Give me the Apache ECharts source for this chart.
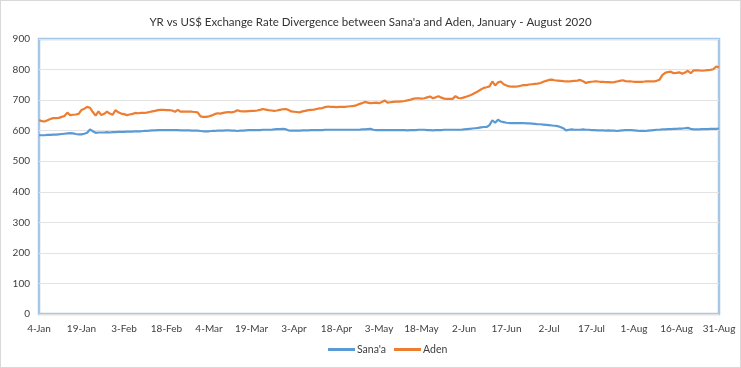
<!DOCTYPE html>
<html>
<head>
<meta charset="utf-8">
<script src="https://cdn.jsdelivr.net/npm/echarts@6/dist/echarts.min.js"></script>
<style>
html,body{margin:0;padding:0;background:#fff;}
#wrap{position:absolute;left:0;top:0;width:739px;height:366px;border:1px solid #D9D9D9;}
#chart{width:739px;height:366px;}
</style>
</head>
<body>
<div id="wrap"><div id="chart"></div></div>
<script>
const titleText = "YR vs US$ Exchange Rate Divergence between Sana'a and Aden, January - August 2020";
const seriesNames = ["Sana'a", "Aden"];
const monthNames = ["Jan","Feb","Mar","Apr","May","Jun","Jul","Aug"];
const startDay = 4;           // 4-Jan-2020
const dayCount = 241;         // through 31-Aug-2020
const yTicks = [0,100,200,300,400,500,600,700,800,900];

const sanaa = [
  585,585,585,586,586,587,587,588,589,590,591,592,591,589,588,
  588,590,593,604,598,593,594,594,594,595,594,595,595,596,596,
  596,597,597,597,598,598,598,599,599,600,601,601,602,602,602,
  602,602,602,602,602,601,601,601,601,600,600,600,599,598,598,
  598,599,599,600,600,600,601,601,600,600,599,600,600,601,602,
  602,602,602,602,603,603,603,603,604,605,605,606,605,601,600,
  600,600,600,601,601,601,602,602,602,602,602,603,603,603,603,
  603,603,603,603,603,603,603,603,603,604,604,605,606,603,602,
  602,602,602,602,602,602,602,602,602,602,601,602,602,602,603,
  603,603,602,602,601,602,602,602,603,603,603,603,603,603,603,
  604,605,606,607,608,609,611,612,612,618,634,626,636,630,628,
  626,625,625,625,625,625,625,624,624,623,622,621,621,620,619,
  618,617,616,615,612,608,601,603,604,603,603,603,604,603,603,
  602,602,601,601,601,600,601,600,600,599,600,601,602,602,602,
  601,600,599,599,599,600,601,602,603,603,604,604,605,605,606,
  606,607,607,608,609,606,604,604,604,605,605,605,606,606,606,607
];
const aden = [
  635,631,630,634,638,641,641,642,645,648,659,651,652,653,655,
  668,672,678,675,661,649,663,651,655,662,656,652,667,660,656,
  654,651,653,655,658,657,658,658,659,661,663,665,667,668,668,
  667,667,666,662,668,662,662,662,662,662,661,660,647,645,645,
  647,650,654,657,656,658,660,661,660,662,667,664,663,663,664,
  665,665,666,668,671,669,667,666,665,666,668,670,671,668,663,
  662,661,660,663,665,667,668,669,671,673,674,677,679,678,678,
  677,678,678,678,679,680,681,683,687,690,694,692,690,691,692,
  690,694,699,692,693,694,695,695,696,697,699,701,704,706,706,
  705,706,709,712,706,709,713,708,705,704,704,704,713,707,706,
  709,712,715,719,724,729,735,740,742,745,761,748,758,761,752,
  748,745,744,744,745,747,749,749,751,752,753,754,756,760,763,
  766,767,765,764,763,762,761,761,762,763,764,766,762,756,759,
  760,761,761,760,760,759,759,758,759,761,763,765,762,761,761,
  760,760,760,760,761,761,761,761,763,767,782,789,792,793,788,
  789,791,786,790,796,788,797,797,797,796,797,798,799,801,810,807
];

// daily category labels
const monthLengths = [31,29,31,30,31,30,31,31];
const categories = [];
{
  let m = 0, d = startDay;
  for (let i = 0; i < dayCount; i++) {
    categories.push(d + '-' + monthNames[m]);
    d++;
    if (d > monthLengths[m]) { d = 1; m++; }
  }
}

const FONT = 'Lato, "Open Sans", sans-serif';
const chart = echarts.init(document.getElementById('chart'));
chart.setOption({
  animation: false,
  title: {
    text: titleText,
    left: 'center',
    top: 10,
    textStyle: { fontFamily: FONT, fontSize: 11.5, fontWeight: 'normal', color: '#333333' }
  },
  legend: {
    data: seriesNames,
    bottom: 7,
    left: 322,
    itemWidth: 27,
    itemHeight: 3,
    itemGap: 8,
    icon: 'rect',
    textStyle: { fontFamily: FONT, fontSize: 10.5, color: '#404040', padding: [0,0,0,-3] }
  },
  grid: {
    left: 38, right: 21, top: 38, bottom: 53,
    show: true, borderColor: '#A7C7E7', borderWidth: 2.5
  },
  xAxis: {
    type: 'category',
    data: categories,
    boundaryGap: false,
    axisLine: { show: false },
    axisTick: { show: false },
    axisLabel: { interval: 14, margin: 10, fontFamily: FONT, fontSize: 10, color: '#404040', showMaxLabel: true }
  },
  yAxis: {
    type: 'value',
    min: yTicks[0], max: yTicks[yTicks.length-1], interval: 100,
    axisLine: { show: false },
    axisTick: { show: false },
    splitLine: { lineStyle: { color: '#E3E3E3', width: 1 } },
    axisLabel: { margin: 9, fontFamily: FONT, fontSize: 10, color: '#404040' }
  },
  series: [
    { name: seriesNames[0], type: 'line', data: sanaa, showSymbol: false, symbol: 'none',
      lineStyle: { color: '#5B9BD5', width: 2.2 }, itemStyle: { color: '#5B9BD5' } },
    { name: seriesNames[1], type: 'line', data: aden, showSymbol: false, symbol: 'none',
      lineStyle: { color: '#ED7D31', width: 2.2 }, itemStyle: { color: '#ED7D31' } }
  ]
});
</script>
</body>
</html>
